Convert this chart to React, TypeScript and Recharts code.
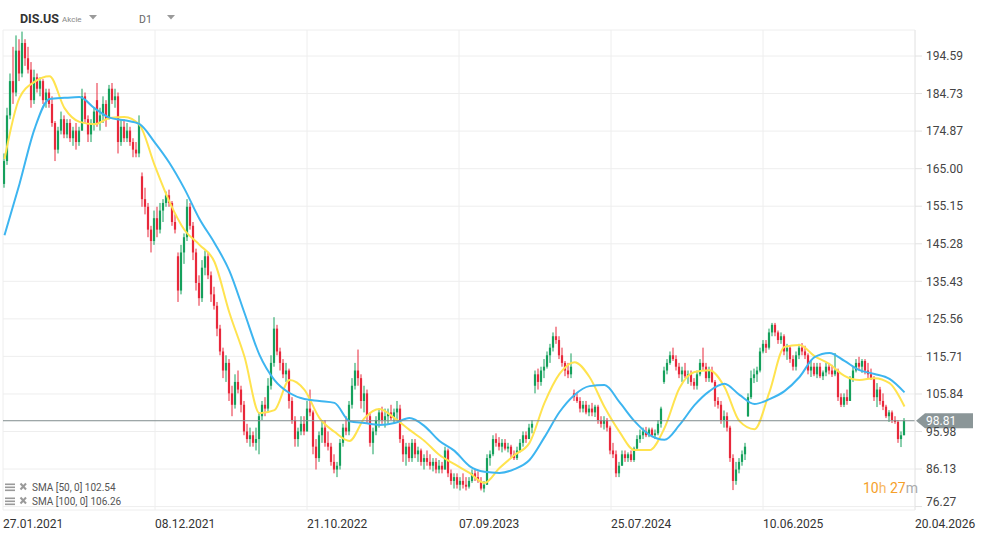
import React from 'react';
import { ComposedChart, Bar, Line, XAxis, YAxis, CartesianGrid, ReferenceLine } from 'recharts';

// candles: [open, high, low, close]
const seg2021: number[][] = [
  [161,169,160,167],[167,181,166,179],[179,190,178,188],[188,197,182,185],[185,200,184,196],
  [196,199,188,190],[190,201,189,198],[198,199,192,194],[194,197,190,191],[191,193,181,183],
  [183,191,182,189],[189,190,185,186],[186,189,184,188],[188,188.5,182,183],[183,186,181,185],
  [185,186,181,182],[182,184,176,177],[177,177.5,167,170],[170,176,169,175],[175,180,174,178],
  [178,179,173,174],[174,178,173,177],[177,178,172,173],[173,176,171,175],[175,177,170,172],
  [172,176,171,175],[175,186,175,184],[184,185,177,178],[178,179,172,174],[174,178,172,177],
  [177,181,175,180],[183,187.5,176,177],[177,181,175,179],[179,184,177,182],[182,183,176,178],
  [178,187,178,186],[186,187.5,182,183],[183,186,181,184],[184,185,169,172],[172,178,171,176],
  [176,178,172,173],[173,177,172,175],[175,176,171,172],[172,173,168,170],[170,172,168,169],
  [169,179,168,177],[163,164,155,157],[157,160,153,155],[155,156,147,149],[149,150,143,146],
  [146,154,145,152],[152,155,147,149],[149,156,148,154],[154,157,151,156],[156,159,155,158],
  [158,159.5,155,156],[156,156.5,150,151],[151,153,148,149],[142,143,130,133],[133,145,132,143],
  [143,148,140,147],[147,157,146,155],
];
const seg2022: number[][] = [
  [155,156,149,150],[150,151,141,143],[143,144,133,135],[135,137,129,131],[131,141,130,139],
  [139,143.5,137,142],[142,143,136,137],[137,138,130,132],[132,134,128,129],[129,130,121,123],
  [123,124,116,117],[117,118,110,112],[112,116,109,114],[114,115,104,106],[106,108,100,103],
  [103,111,102,109],[109,112,106,107],[107,108,101,103],[103,104,95,96],[96,98,93,94],
  [94,97,92,95],[95,96,92,93],[93,97,91,94],[94,101,90,100],[100,104,99,103],
  [103,105,100,102],[102,110,101,108],[108,116,107,114],[114,126,113,123],[123,124,116,117],
  [117,118,112,114],[114,115,110,111],[111,114,109,112],[112,112.5,102,104],[104,105,98,99],
  [99,100,92,94],[94,97,92,96],[96,100,95,98],[98,100,95,96],[96,104,96,102],
  [102,107,100,101],[101,101.5,90,92],[92,94,86,89],[89,96,88,95],[95,99,93,97],
  [97,99,92,93],[93,96,91,92],[92,93,87,88],[88,90,85,86],[86,88,84,87],
  [87,94,86,93],[93,98,92,97],[97,100,95,96],[96,104,95,103],[103,110,102,108],
  [108,114,107,112],[112,117.5,108,110],[110,111,102,104],[104,108,101,106],[106,107,98,100],
  [100,101,92,93],[93,97,90,96],[96,100,95,99],
];
const seg2023: number[][] = [
  [99,102,97,101],[101,102.5,98,99],[99,102,97,100],[100,102,98,101],[101,103,99,99.5],
  [99.5,102,98,101],[101,104,99,102],[102,103,93,94],[94,95,88,90],[90,93,87,92],
  [92,93,88,89],[89,94,88,93],[93,94,89,90],[90,92,88,91],[91,91.5,87,88],
  [88,90,86,89],[89,91,87,88],[88,90,86,87],[87,89,85.5,88],[88,89,85,86],
  [86,88.5,85,87],[87,88,85,86],[86,92,86,91],[91,91.5,84,85],[85,86,82,83],
  [83,85,81,84],[84,85,81,82],[82,84,80.5,83],[83,85,81,82],[82,84,80.5,81.5],
  [81.5,84,81,83],[83,86,82.5,85],[85,86,83,84],[84,85.5,82.5,83],[83,84,80.5,81],
  [81,83,80,82],[82,90,82,89],[89,91,87,90],[90,95,89.5,94],[94,95.5,92,93],
  [93,94.5,91,92],[92,94,90.5,93],[93,94,91,91.5],[91.5,93,90.5,92],[92,92.5,89,90],
  [90,91,88.5,89],[89,92,88.5,91],[91,94,90.5,93],[93,96,92,95],[95,96,93,94],
  [94,98,94,97],[97,99,95.5,98],[108,112,106,111],[111,112.5,107,109],[109,113,108,112],
  [112,115,110,113],[113,117,112.5,116],[116,119,114,118],[118,122,117,121],[121,123.5,119,120],
  [120,121,115,116],
];
const seg2024: number[][] = [
  [116,118,113,114],[114,114.5,110.5,112],[112,114,110,111],[111,116.5,110,113],[106,107,104,105],
  [105,106,103.5,104],[104,105,101,102],[102,104,101,103],[103,104,100.5,101],[101,103,100,102],
  [102,103.5,100,101],[101,103,99.8,102.5],[102.5,103,98,99],[99,100,97,98],[98,100,96.5,99],
  [99,99.5,96,97],[97,97.5,90,91],[91,93,89,90],[90,91,84,85],[85,88,84,87],
  [87,91,87,90],[90,91,88,89],[89,90.5,88,90],[90,91,88,88.5],[88.5,92,88,91.5],
  [91.5,95,91,94],[94,96.5,93,95],[95,97,94,96],[96,97.2,94.5,95],[95,97,94.5,96.5],
  [96.5,97,94.5,95],[95,96.5,94,95.5],[95.5,99,95,98],[98,102.5,97,102],[109,113,108.5,112],
  [112,115,111,114],[114,117,113.5,116],[116,118,114.5,115],[115,116,112,113],[113,114,110,111],
  [111,113,109,112],[112,114,110,110.5],[110.5,112,108.5,111],[111,112,108,109],[109,110,107,108],
  [108,112,107,111],[111,115,110.5,114],[114,118,112,113],[113,114,109,110],[110,113,109,112],
  [112,113,108.7,109],[109,109.5,102.5,104],[104,105,102,103],[103,104,98,99],[99,101.5,97,100],
  [100,101,96,97],[97,97.5,88,89],[89,90,80.6,83],[83,88,82,86],[86,89,85,88],
  [88,91,87,90],[90,93,88.5,92],
];
const seg2025: number[][] = [
  [100,106,99.8,105],[105,112,104.5,110],[110,112.5,108.7,111],[111,113,109,112],[112,118,111.5,117],
  [117,120,116.5,119],[119,120,116.6,118],[118,123,117.5,122],[122,124.5,121,124],[124,124.5,121,122],
  [122,122.5,119,120],[120,122,119,121],[121,121.5,116,117],[117,119,114.8,118],[118,118.5,114,115],
  [115,116,112,113],[113,117,112,116],[116,119,115,118],[118,119.2,116,117],[117,118.5,115,116],
  [116,116.5,111,112],[112,114.5,110.3,113],[113,114,110.5,111],[111,114,110,113],[113,114,110,110.5],
  [110.5,112,109.5,111.5],[111.5,114,110.5,113],[113,114,111,112],[112,113.5,110.3,111],[111,116.6,110.5,112],
  [112,112.5,104,105],[105,106,102.4,103],[103,106,102.4,105],[105,107,103,104],[104,110.5,104,110],
  [110,113,109,112],[112,115,111.5,114],[114,115.6,112,113],[113,115,111.4,114.5],[114.5,115,111,112],
  [112,114,110,111],[111,112.5,109.5,110],[110,110.5,104,105],[105,108.7,102.4,107],[107,107.7,103,104],
  [104,106,101.6,102.5],[102.5,103,99.5,100],[100,101.6,98.5,101],[101,101.5,98.2,99],[99,100,98,98.5],
  [98.5,99,93,94],[94,96,91.9,95],[95,99.5,95,98.81],
];

// SMA values read every SMA_STEP candles
const SMA_STEP = 5;
const sma50: number[] = [167.5,183.6,187.8,189.3,180.9,177.3,176.7,178.3,178.6,176.5,166.0,156.3,148.9,145.0,140.5,127.1,115.6,100.8,101.6,109.5,106.9,99.5,95.9,93.5,99.5,101.9,99.5,96.4,93.5,89.8,87.4,85.1,82.5,86.4,89.8,93.0,103.5,111.1,114.2,110.3,102.4,95.9,91.1,91.1,96.9,107.4,111.6,112.1,107.7,98.7,96.6,106.4,118.2,118.7,115.8,113.7,110.6,109.5,110.0,108.7,102.54];
const sma100: number[] = [147.5,161.0,175.4,183.3,183.6,183.8,180.9,178.4,177.7,176.7,172.0,166.5,159.7,151.8,145.5,138.1,127.1,116.1,109.5,106.1,104.5,104.0,103.5,98.7,98.2,97.7,98.2,99.5,97.4,93.5,90.9,86.9,85.4,85.1,86.1,88.5,94.5,101.1,105.6,107.9,108.2,103.7,98.7,95.1,93.8,97.7,102.9,106.6,108.5,105.6,103.2,104.5,106.6,110.3,115.5,116.6,114.5,112.1,111.1,109.8,106.26];

const xTickLabels = ['27.01.2021','08.12.2021','21.10.2022','07.09.2023','25.07.2024','10.06.2025','20.04.2026'];
const yTicks = [194.59,184.73,174.87,165.0,155.15,145.28,135.43,125.56,115.71,105.84,95.98,86.13,76.27];
const lastPrice = 98.81;
const sma50Last = 102.54;
const sma100Last = 106.26;

const candles = [...seg2021, ...seg2022, ...seg2023, ...seg2024, ...seg2025];
const rows = candles.map(([o, h, l, c], i) => ({
  i, o, h, l, c,
  range: [l, h],
  s50: i % SMA_STEP === 0 ? sma50[i / SMA_STEP] : null,
  s100: i % SMA_STEP === 0 ? sma100[i / SMA_STEP] : null,
}));

const X_MIN = -0.5;
const X_MAX = 303.5;
const xTicks = xTickLabels.map((_, k) => X_MIN + ((X_MAX - X_MIN) * k) / (xTickLabels.length - 1));

const GREEN = '#15a05c';
const RED = '#e8283b';
const FONT = 'Roboto, sans-serif';

const CandleShape = (props: any) => {
  const { x, y, width, height, payload } = props;
  if (!payload || x == null || y == null) return null;
  const { o, h, l, c } = payload;
  const top = Math.min(y, y + height);
  const hh = Math.abs(height);
  const cx = x + width / 2;
  const ppu = hh / (h - l);
  const yO = top + (h - o) * ppu;
  const yC = top + (h - c) * ppu;
  const color = c >= o ? GREEN : RED;
  const bTop = Math.min(yO, yC);
  const bH = Math.max(Math.abs(yC - yO), 1);
  return (
    <g>
      <line x1={cx} x2={cx} y1={top} y2={top + hh} stroke={color} strokeWidth={1} />
      <rect x={cx - 1.1} y={bTop} width={2.2} height={bH} fill={color} />
    </g>
  );
};

const YTick = (props: any) => {
  const { x, y, payload } = props;
  const shift = payload.value === 76.27 ? -5 : 0;
  return (
    <text x={x} y={y + shift} dy="0.355em" fill="#444" fontSize={12} fontFamily={FONT} textAnchor="start">
      {Number(payload.value).toFixed(2)}
    </text>
  );
};

const XTick = (props: any) => {
  const { x, y, index } = props;
  return (
    <text x={x} y={y + 17.5} fill="#333" fontSize={12} fontFamily={FONT} textAnchor="start">
      {xTickLabels[index]}
    </text>
  );
};

const PriceTag = (props: any) => {
  const vb = props.viewBox || {};
  const r = (vb.x || 0) + (vb.width || 0);
  const y = vb.y || 0;
  const pts = `${r + 1},${y} ${r + 10},${y - 7.5} ${r + 58},${y - 7.5} ${r + 58},${y + 7.5} ${r + 10},${y + 7.5}`;
  return (
    <g>
      <polygon points={pts} fill="#8b9698" />
      <text x={r + 11} y={y} dy="0.355em" fill="#fff" fontSize={12} fontFamily={FONT}>
        {lastPrice.toFixed(2)}
      </text>
    </g>
  );
};

const LegendIcon = ({ y }: { y: number }) => (
  <g>
    <rect x={5} y={y - 7} width={10} height={1.6} fill="#9a9a9a" />
    <rect x={5} y={y - 4} width={10} height={1.6} fill="#9a9a9a" />
    <rect x={5} y={y - 1} width={10} height={1.6} fill="#9a9a9a" />
    <line x1={20.5} y1={y - 7} x2={26} y2={y - 1} stroke="#9a9a9a" strokeWidth={2} />
    <line x1={26} y1={y - 7} x2={20.5} y2={y - 1} stroke="#9a9a9a" strokeWidth={2} />
  </g>
);

export default function App() {
  return (
    <div style={{ position: 'absolute', left: 0, top: 0, width: 986, height: 533, background: '#fff' }}>
      <ComposedChart
        width={986}
        height={533}
        data={rows}
        margin={{ top: 30, right: 0, bottom: 0, left: 3 }}
      >
        <CartesianGrid stroke="#eeeeee" strokeWidth={1} />
        <XAxis
          dataKey="i"
          type="number"
          domain={[X_MIN, X_MAX]}
          allowDataOverflow
          ticks={xTicks}
          interval={0}
          tick={<XTick />}
          tickLine={false}
          axisLine={false}
          tickSize={0}
          tickMargin={0}
          height={23}
        />
        <YAxis
          orientation="right"
          width={71}
          domain={[75.37, 201.42]}
          allowDataOverflow
          ticks={yTicks}
          interval={0}
          tick={<YTick />}
          tickLine={{ stroke: '#e2e2e2' }}
          axisLine={{ stroke: '#e8e8e8' }}
          tickSize={7}
          tickMargin={4}
        />
        <Bar dataKey="range" shape={<CandleShape />} barSize={2} isAnimationActive={false} />
        <Line dataKey="s50" type="monotone" stroke="#ffe34f" strokeWidth={2} dot={false} connectNulls isAnimationActive={false} />
        <Line dataKey="s100" type="monotone" stroke="#3db5f0" strokeWidth={2} dot={false} connectNulls isAnimationActive={false} />
        <ReferenceLine y={lastPrice} stroke="#818c8e" strokeWidth={1} label={<PriceTag />} />
      </ComposedChart>
      <svg width={986} height={533} style={{ position: 'absolute', left: 0, top: 0, pointerEvents: 'none' }}>
        <text x={20} y={22.7} fontFamily={FONT} fontSize={12.5} fontWeight="bold" fill="#333">DIS.US</text>
        <text x={62} y={21.7} fontFamily={FONT} fontSize={8} fill="#888">Akcie</text>
        <polygon points="89,15 97,15 93,19.5" fill="#9a9a9a" />
        <text x={139} y={22.5} fontFamily={FONT} fontSize={10.5} fill="#666">D1</text>
        <polygon points="167,15 175,15 171,19.5" fill="#9a9a9a" />
        <LegendIcon y={490.5} />
        <text x={32} y={490.7} fontFamily={FONT} fontSize={10} fill="#555">{`SMA [50, 0] ${sma50Last.toFixed(2)}`}</text>
        <LegendIcon y={504.5} />
        <text x={32} y={504.7} fontFamily={FONT} fontSize={10} fill="#555">{`SMA [100, 0] ${sma100Last.toFixed(2)}`}</text>
        <text x={863} y={492.5} fontFamily={FONT} fontSize={14}>
          <tspan fill="#f5a02a">10</tspan>
          <tspan fill="#f7b862">h </tspan>
          <tspan fill="#f5a02a">27</tspan>
          <tspan fill="#aaaaaa">m</tspan>
        </text>
      </svg>
    </div>
  );
}
